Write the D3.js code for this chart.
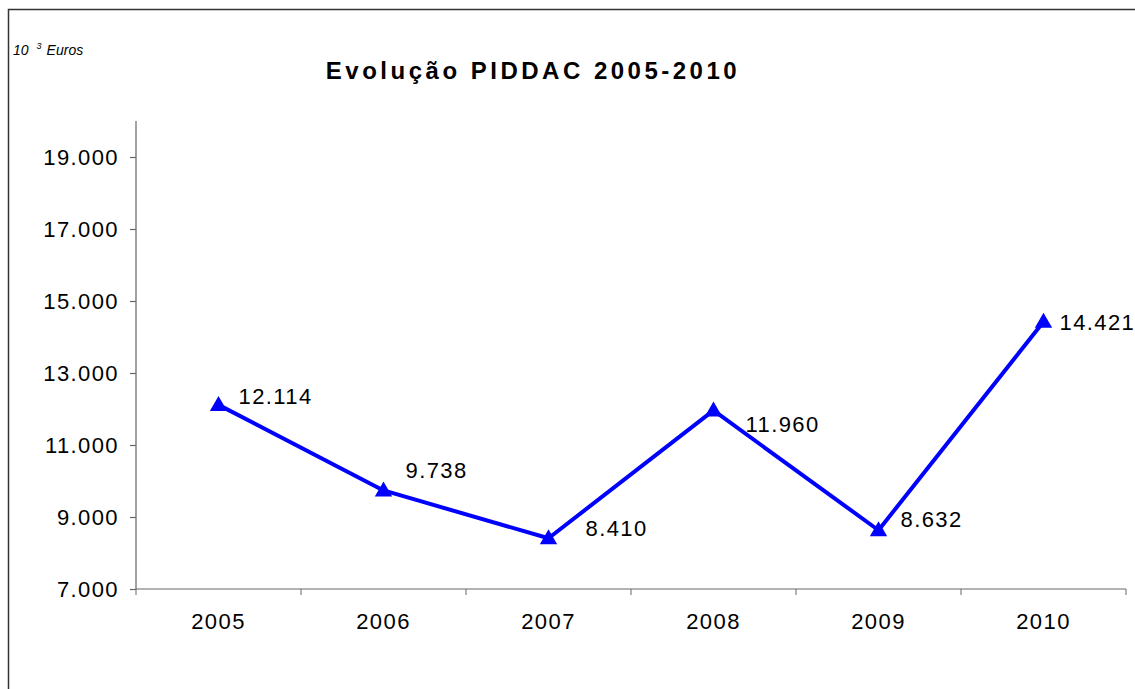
<!DOCTYPE html>
<html>
<head>
<meta charset="utf-8">
<script src="https://cdn.jsdelivr.net/npm/d3@7"></script>
<style>
  body { margin: 0; background: #fff; }
  svg { display: block; font-family: "Liberation Sans", Arial, sans-serif; }
</style>
</head>
<body>
<svg id="chart" width="1135" height="689"></svg>
<script>
// data
var anos = ["2005", "2006", "2007", "2008", "2009", "2010"];
var valores = [12114, 9738, 8410, 11960, 8632, 14421];
var yTicks = [7000, 9000, 11000, 13000, 15000, 17000, 19000];

// label offsets (dx, dy) from each point, like the manual placement in the original
var labelPos = [[20, -9], [22, -20], [37, -10], [32, 14], [22, -11], [16, 0]];

var svg = d3.select("#chart");
var fmt = function (v) { return d3.format(",")(v).replace(/,/g, "."); };

// outer frame
svg.append("rect")
  .attr("x", 8.5).attr("y", 9.5)
  .attr("width", 1140).attr("height", 700)
  .attr("fill", "none").attr("stroke", "#333").attr("stroke-width", 1.5);

var x = d3.scaleBand().domain(anos).range([136, 1126]);
var y = d3.scaleLinear().domain([7000, 20000]).range([589, 121]);

// title
svg.append("text")
  .attr("x", 533).attr("y", 79)
  .attr("text-anchor", "middle")
  .style("font-size", "24px").style("font-weight", "bold")
  .style("letter-spacing", "3.5px")
  .text("Evolução PIDDAC 2005-2010");

// unit
var u = svg.append("text").attr("x", 13).attr("y", 55)
  .style("font-size", "14px").style("font-style", "italic");
u.append("tspan").text("10");
u.append("tspan").attr("dx", 8).attr("dy", -6).style("font-size", "9px").text("3");
u.append("tspan").attr("dx", 5).attr("dy", 6).text("Euros");

// y axis
var yAxis = d3.axisLeft(y).tickValues(yTicks).tickSize(6).tickFormat(fmt);
var gy = svg.append("g").attr("transform", "translate(136,0)").call(yAxis);
gy.select(".domain").attr("d", "M0,121V589");

// x axis
var gx = svg.append("g").attr("transform", "translate(0,589)")
  .call(d3.axisBottom(x).tickSize(0).tickPadding(24));
gx.select(".domain").attr("d", "M136,0H1126");
gx.selectAll(".sep").data(anos.concat(["end"])).enter().append("line")
  .attr("class", "sep")
  .attr("x1", function (d, i) { return 136 + i * x.bandwidth(); })
  .attr("x2", function (d, i) { return 136 + i * x.bandwidth(); })
  .attr("y1", 0).attr("y2", 6)
  .attr("stroke", "#666");

svg.selectAll(".domain, .tick line").attr("stroke", "#666").attr("stroke-width", 1.2);
svg.selectAll(".tick text")
  .style("font-size", "22px").style("letter-spacing", "1.4px")
  .attr("fill", "#000").style("font-family", "'Liberation Sans', Arial, sans-serif");
gy.selectAll(".tick text").attr("x", -17);

// line
var cx = function (d, i) { return x(anos[i]) + x.bandwidth() / 2; };
svg.append("path")
  .datum(valores)
  .attr("fill", "none").attr("stroke", "#0000ff").attr("stroke-width", 4)
  .attr("stroke-linejoin", "round")
  .attr("d", d3.line().x(cx).y(function (d) { return y(d); }));

// markers
svg.selectAll(".mk").data(valores).enter().append("path")
  .attr("class", "mk")
  .attr("transform", function (d, i) { return "translate(" + cx(d, i) + "," + (y(d) + 1) + ")"; })
  .attr("d", d3.symbol().type(d3.symbolTriangle).size(130))
  .attr("fill", "#0000ff");

// data labels
svg.selectAll(".lbl").data(valores).enter().append("text")
  .attr("class", "lbl")
  .attr("x", function (d, i) { return cx(d, i) + labelPos[i][0]; })
  .attr("y", function (d, i) { return y(d) + labelPos[i][1]; })
  .attr("dy", "0.35em")
  .style("font-size", "22px").style("letter-spacing", "1.4px")
  .text(fmt);
</script>
</body>
</html>
